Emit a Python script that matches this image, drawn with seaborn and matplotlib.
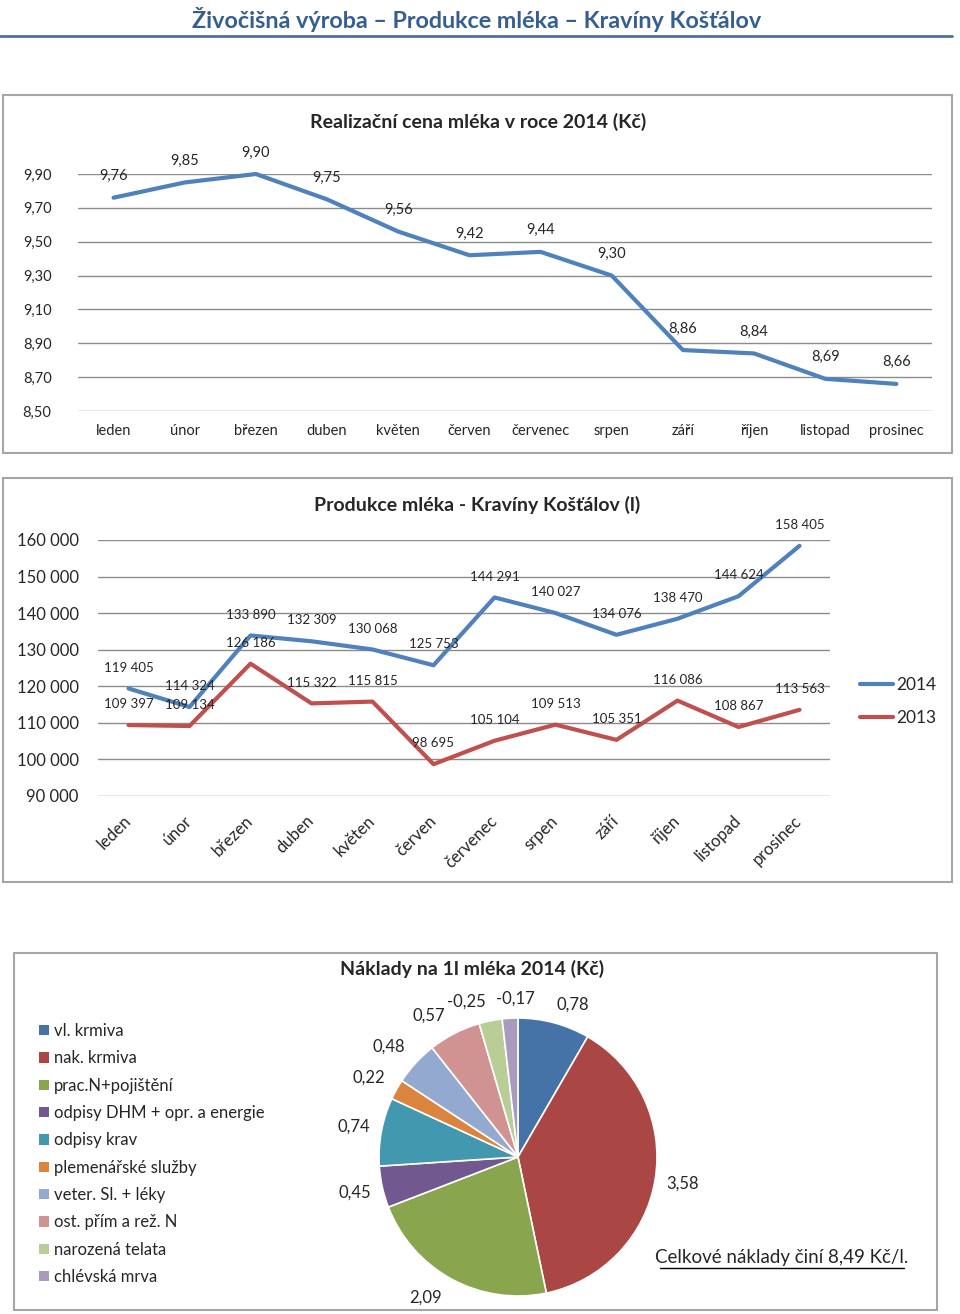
import numpy as np
import pandas as pd
import matplotlib.pyplot as plt
import seaborn as sns
from matplotlib.patches import Rectangle, Patch
from matplotlib.lines import Line2D

sns.set_style("white")
plt.rcParams['font.family'] = ['Lato', 'DejaVu Sans']

W, H = 960, 1314

mesice = ['leden', 'únor', 'březen', 'duben', 'květen', 'červen', 'červenec',
          'srpen', 'září', 'říjen', 'listopad', 'prosinec']

cena_2014 = [9.76, 9.85, 9.90, 9.75, 9.56, 9.42, 9.44, 9.30, 8.86, 8.84, 8.69, 8.66]

produkce_2014 = [119405, 114324, 133890, 132309, 130068, 125753, 144291, 140027,
                 134076, 138470, 144624, 158405]
produkce_2013 = [109397, 109134, 126186, 115322, 115815, 98695, 105104, 109513,
                 105351, 116086, 108867, 113563]

naklady_polozky = ['vl. krmiva', 'nak. krmiva', 'prac.N+pojištění', 'odpisy DHM + opr. a energie',
                   'odpisy krav', 'plemenářské služby', 'veter. Sl. + léky', 'ost. přím a rež. N',
                   'narozená telata', 'chlévská mrva']
naklady_hodnoty = [0.78, 3.58, 2.09, 0.45, 0.74, 0.22, 0.48, 0.57, -0.25, -0.17]
naklady_barvy = ['#4572A7', '#AA4643', '#89A54E', '#71588F', '#4198AF', '#DB843D',
                 '#93A9CF', '#D19392', '#B9CD96', '#A99BBD']

# small label nudges (pixels, +x right, +y down) like Excel's "best fit"
popisky_posun = [(12, 9), (0, 0), (-13, -6), (0, 0), (0, 0), (-3, 2), (-6, 2), (-13, 7),
                 (-19, 8), (7, 8)]

BLUE = '#4F81BD'
RED = '#C0504D'
GRID = '#8C8C8C'


def cz_dec(v):
    return f"{v:.2f}".replace('.', ',')


def cz_int(v):
    return f"{v:,.0f}".replace(',', ' ')


def px_axes(x0, y0, x1, y1):
    return fig.add_axes([x0 / W, 1 - y1 / H, (x1 - x0) / W, (y1 - y0) / H])


def frame(x0, y0, x1, y1):
    fig.add_artist(Rectangle((x0 / W, 1 - y1 / H), (x1 - x0) / W, (y1 - y0) / H,
                             transform=fig.transFigure, fill=False,
                             edgecolor='#A6A6A6', lw=1.5))


fig = plt.figure(figsize=(W / 100, H / 100), dpi=100)

# page heading
fig.text(477 / W, 1 - 19 / H, 'Živočišná výroba – Produkce mléka – Kravíny Košťálov',
         ha='center', va='center', fontsize=16.8, fontweight='bold', color='#365F91')
fig.add_artist(Line2D([0, 952 / W], [1 - 36 / H, 1 - 36 / H], transform=fig.transFigure,
                      color='#4F6FA0', lw=2))

# ---- price chart ----
frame(3, 95, 952, 453)
fig.text(478 / W, 1 - 122 / H, 'Realizační cena mléka v roce 2014 (Kč)',
         ha='center', va='center', fontsize=14, fontweight='bold')
ax1 = px_axes(78, 174, 932, 411)
idx = np.arange(len(mesice))
sns.lineplot(x=idx, y=cena_2014, ax=ax1, color=BLUE, lw=3, clip_on=False)
ax1.set_xlim(-0.5, 11.5)
ax1.set_ylim(8.50, 9.90)
yt = np.arange(8.50, 9.91, 0.20)
ax1.set_yticks(yt)
ax1.set_yticklabels([cz_dec(v) for v in yt])
ax1.set_xticks(idx)
ax1.set_xticklabels(mesice)
ax1.grid(axis='y', color=GRID, lw=1)
ax1.grid(axis='x', visible=False)
sns.despine(ax=ax1, left=True, bottom=True)
ax1.tick_params(axis='y', length=0, pad=19, labelsize=10.5)
ax1.tick_params(axis='x', length=0, pad=9, labelsize=10.5)
for i, v in enumerate(cena_2014):
    ax1.annotate(cz_dec(v), (i, v), xytext=(0, 15.5), textcoords='offset points',
                 ha='center', va='center', fontsize=10.5, annotation_clip=False)
ax1.set_xlabel('')
ax1.set_ylabel('')

# ---- production chart ----
frame(3, 478, 952, 882)
fig.text(477 / W, 1 - 505 / H, 'Produkce mléka - Kravíny Košťálov (l)',
         ha='center', va='center', fontsize=14, fontweight='bold')
ax2 = px_axes(98, 540, 830, 796)
df = pd.DataFrame({
    'mesic': np.concatenate([idx, idx]),
    'litry': produkce_2014 + produkce_2013,
    'rok': ['2014'] * 12 + ['2013'] * 12,
})
sns.lineplot(data=df, x='mesic', y='litry', hue='rok', hue_order=['2014', '2013'],
             palette={'2014': BLUE, '2013': RED}, lw=3, ax=ax2, clip_on=False)
ax2.set_xlim(-0.5, 11.5)
ax2.set_ylim(90000, 160000)
yt2 = np.arange(90000, 160001, 10000)
ax2.set_yticks(yt2)
ax2.set_yticklabels([cz_int(v) for v in yt2])
ax2.set_xticks(idx)
ax2.set_xticklabels(mesice, rotation=45, ha='right', va='center', rotation_mode='anchor')
ax2.grid(axis='y', color=GRID, lw=1)
ax2.grid(axis='x', visible=False)
sns.despine(ax=ax2, left=True, bottom=True)
ax2.tick_params(axis='y', length=0, pad=14, labelsize=12)
ax2.tick_params(axis='x', length=0, pad=16, labelsize=12)
for serie in (produkce_2014, produkce_2013):
    for i, v in enumerate(serie):
        ax2.annotate(cz_int(v), (i, v), xytext=(0, 15), textcoords='offset points',
                     ha='center', va='center', fontsize=9.5, annotation_clip=False)
ax2.set_xlabel('')
ax2.set_ylabel('')
sns.move_legend(ax2, 'center left', bbox_to_anchor=(1.02, 0.37), frameon=False,
                title=None, fontsize=12.5, handlelength=1.9, handletextpad=0.15,
                labelspacing=1.0)

# ---- cost pie ----
frame(14, 953, 937, 1310)
fig.text(472 / W, 1 - 969 / H, 'Náklady na 1l mléka 2014 (Kč)',
         ha='center', va='center', fontsize=14, fontweight='bold')
ax3 = px_axes(379, 1018, 657, 1296)
wedges, texts = ax3.pie(np.abs(naklady_hodnoty), colors=naklady_barvy, startangle=90,
                        counterclock=False,
                        labels=[cz_dec(v) for v in naklady_hodnoty], labeldistance=1.2,
                        wedgeprops=dict(edgecolor='white', linewidth=1.2),
                        textprops=dict(fontsize=12, va='center'))
for t, (dx, dy) in zip(texts, popisky_posun):
    x, y = t.get_position()
    t.set_position((x + dx / 139, y - dy / 139))
    t.set_horizontalalignment('center')
ax3.set_xlim(-1, 1)
ax3.set_ylim(-1, 1)
ax3.set_aspect('equal')
handles = [Patch(facecolor=c, edgecolor='none') for c in naklady_barvy]
fig.legend(handles, naklady_polozky, loc='upper left', bbox_to_anchor=(24 / W, 1 - 1008 / H),
           frameon=False, fontsize=12, handlelength=0.6, handleheight=0.6,
           handletextpad=0.3, labelspacing=0.68)
fig.text(782 / W, 1 - 1258 / H, 'Celkové náklady činí 8,49 Kč/l.', ha='center', va='center',
         fontsize=13.5)
fig.add_artist(Line2D([660 / W, 904 / W], [1 - 1268 / H, 1 - 1268 / H],
                      transform=fig.transFigure, color='black', lw=1))

fig.savefig('out.png', dpi=100)
